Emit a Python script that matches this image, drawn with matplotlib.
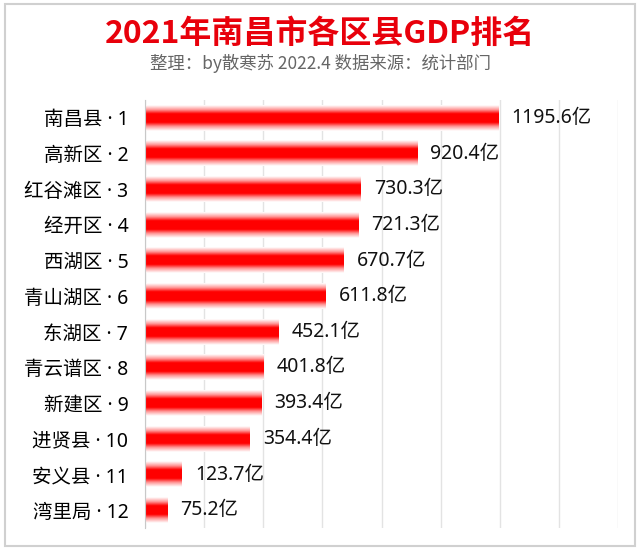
import numpy as np
import matplotlib.pyplot as plt
from matplotlib.patches import Rectangle
from matplotlib.colors import LinearSegmentedColormap

plt.rcParams['font.family'] = ['Noto Sans CJK SC', 'DejaVu Sans']
lat = ['Noto Sans', 'Noto Sans CJK SC']

districts = ['南昌县', '高新区', '红谷滩区', '经开区', '西湖区', '青山湖区',
             '东湖区', '青云谱区', '新建区', '进贤县', '安义县', '湾里局']
gdp = [1195.6, 920.4, 730.3, 721.3, 670.7, 611.8,
       452.1, 401.8, 393.4, 354.4, 123.7, 75.2]
ranks = list(range(1, len(districts) + 1))

fig = plt.figure(figsize=(6.4, 5.5), dpi=100)
fig.patches.append(Rectangle((0.008, 0.008), 0.984, 0.984, transform=fig.transFigure,
                             fill=False, edgecolor='#d0d0d0', linewidth=1.5))

ax = fig.add_axes([145 / 640, 22 / 550, (618 - 145) / 640, (450 - 22) / 550])

y = np.arange(len(gdp))
bars = ax.barh(y, gdp, height=0.72, color='none', edgecolor='none')

# vertical gradient: white -> red -> white
cmap = LinearSegmentedColormap.from_list('rw', ['#ffffff', '#ff9a9a', '#ff0000', '#ff0000', '#ff0000', '#ff9a9a', '#ffffff'])
grad = np.linspace(0, 1, 64).reshape(-1, 1)
for b in bars:
    x0, y0, w, h = b.get_x(), b.get_y(), b.get_width(), b.get_height()
    ax.imshow(grad, cmap=cmap, aspect='auto', extent=(x0, x0 + w, y0, y0 + h),
              origin='lower', zorder=2, interpolation='bilinear')

ax.set_xlim(0, 1600)
ax.set_ylim(len(gdp) - 0.5, -0.5)
ax.set_xticks(np.arange(0, 1601, 200))
ax.xaxis.grid(True, color='#e3e3e3', linewidth=1)
ax.set_axisbelow(True)
ax.tick_params(axis='x', length=0, labelbottom=False)
ax.tick_params(axis='y', length=0, pad=12)
ax.set_yticks(y)
ax.set_yticklabels([f'{d} · {r}' for d, r in zip(districts, ranks)], fontsize=14, family=lat)
for s in ['top', 'right', 'bottom']:
    ax.spines[s].set_visible(False)
ax.spines['left'].set_color('#c8c8c8')

for yi, v in zip(y, gdp):
    ax.text(v + 45, yi, f'{v}亿', va='center', ha='left', fontsize=14, color='#111111', family=lat)

fig.text(0.5, 1 - 34 / 550, '2021年南昌市各区县GDP排名', ha='center', va='center',
         fontsize=23, fontweight='bold', color='#e8000b')
fig.text(0.5, 1 - 63 / 550, '整理：by散寒苏 2022.4 数据来源：统计部门', ha='center', va='center',
         fontsize=12.5, color='#666666')

fig.savefig('out.png', dpi=100)
